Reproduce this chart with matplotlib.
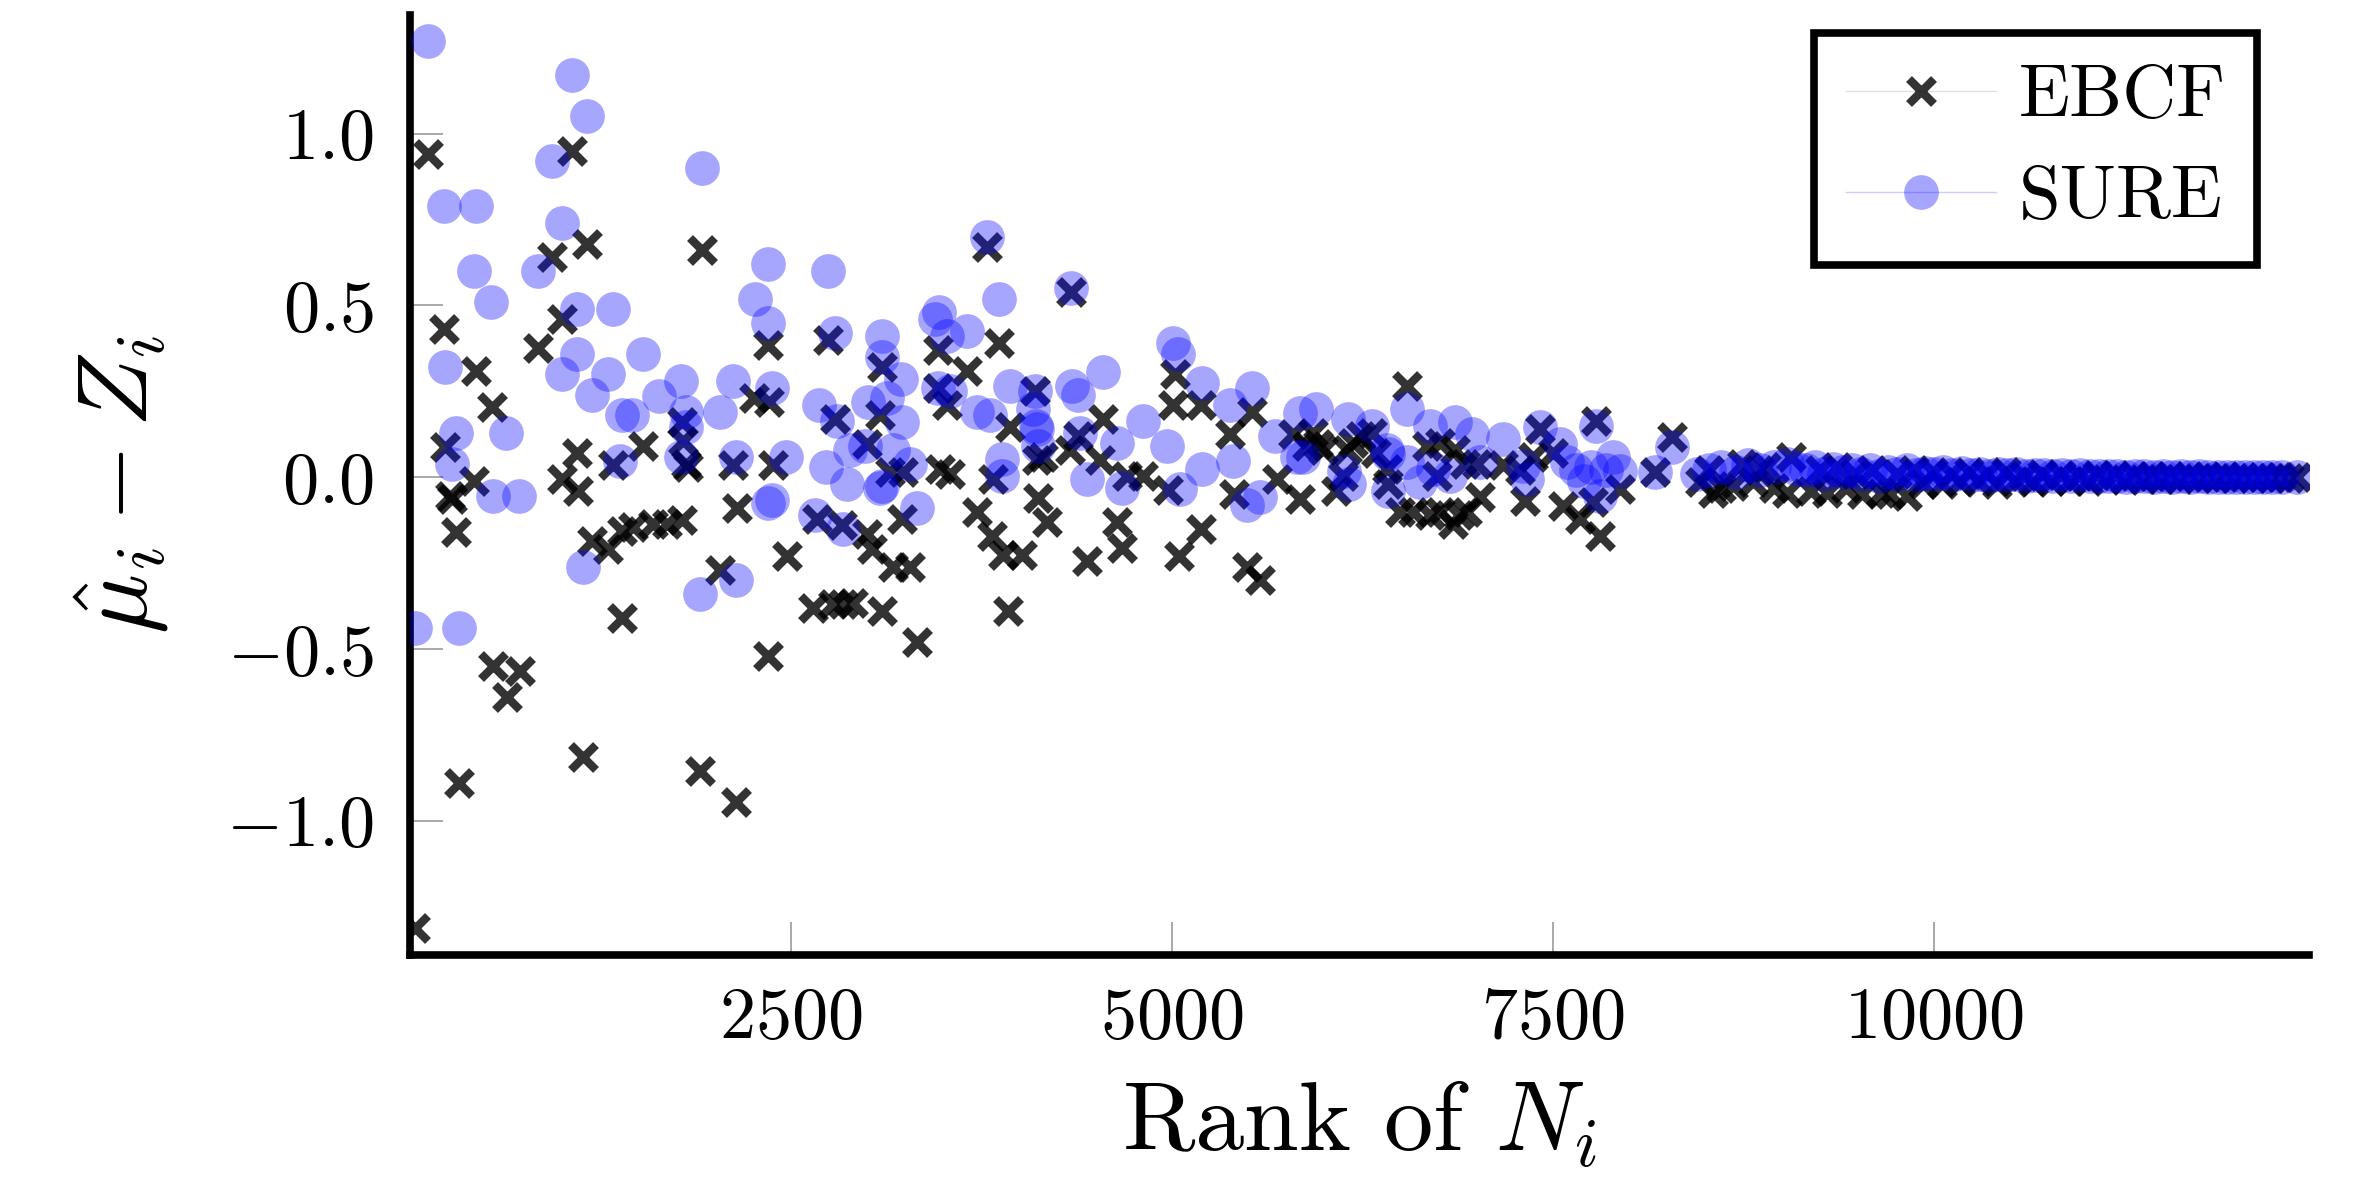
import matplotlib
matplotlib.use("Agg")
import matplotlib.pyplot as plt
from matplotlib.lines import Line2D

plt.rcParams['font.family'] = 'serif'
plt.rcParams['font.serif'] = ['cmr10', 'DejaVu Serif']
plt.rcParams['mathtext.fontset'] = 'cm'
plt.rcParams['axes.unicode_minus'] = False

# ---------------- data ----------------
ebcf_x = [33, 120, 223, 230, 262, 275, 302, 324, 420, 432, 536, 544, 636, 721, 840, 932, 997, 1000,
          1063, 1095, 1100, 1137, 1160, 1194, 1301, 1334, 1391, 1391, 1465, 1529, 1595, 1685, 1784,
          1784, 1790, 1811, 1825, 1903, 1916, 2034, 2120, 2140, 2143, 2258, 2350, 2350, 2356, 2380,
          2472, 2647, 2670, 2743, 2776, 2790, 2834, 2843, 2907, 2998, 2998, 3031, 3084, 3097, 3097,
          3150, 3170, 3228, 3235, 3281, 3327, 3465, 3465, 3478, 3522, 3544, 3655, 3720, 3787, 3819,
          3826, 3866, 3891, 3924, 3937, 4016, 4101, 4114, 4121, 4154, 4180, 4331, 4336, 4383, 4443,
          4528, 4548, 4639, 4672, 4705, 4810, 4973, 5006, 5020, 5046, 5190, 5190, 5381, 5407, 5492,
          5525, 5578, 5689, 5794, 5840, 5886, 5925, 5960, 5991, 6075, 6122, 6149, 6188, 6240, 6313,
          6340, 6411, 6418, 6496, 6542, 6582, 6673, 6693, 6739, 6759, 6759, 6844, 6857, 6880, 6923,
          6936, 7000, 7022, 7173, 7280, 7317, 7369, 7415, 7500, 7566, 7678, 7763, 7783, 7809, 7940,
          8170, 8281, 8465, 8520, 8551, 8600, 8682, 8740, 8813, 8850, 8900, 8950, 9036, 9060,
          9190, 9250, 9300, 9360, 9420, 9480, 9530, 9590, 9650, 9710, 9760, 9820, 9870, 9930, 9990,
          10050, 10110, 10170, 10230, 10290, 10350, 10410, 10470, 10530, 10590, 10650, 10710, 10770,
          10830, 10890, 10950, 11010, 11070, 11130, 11190, 11250, 11310, 11370, 11430, 11490, 11550,
          11610, 11670, 11730, 11790, 11850, 11910, 11970, 12030, 12090, 12150, 12210, 12270, 12330,
          12380]
ebcf_y = [-1.31, 0.94, 0.43, 0.087, -0.055, -0.064, -0.16, -0.89, -0.01, 0.31, 0.205, -0.55, -0.64,
          -0.565, 0.375, 0.64, 0.46, -0.005, 0.95, 0.07, -0.04, -0.815, 0.68, -0.185, -0.21, 0.037,
          -0.155, -0.41, -0.145, 0.09, -0.135, -0.135, -0.125, 0.16, 0.105, 0.04, 0.03, -0.855, 0.66,
          -0.27, 0.037, -0.945, -0.09, 0.23, 0.385, -0.52, 0.22, 0.037, -0.23, -0.38, -0.12, 0.40,
          -0.37, 0.17, -0.14, -0.37, -0.365, 0.096, -0.165, -0.21, 0.18, 0.32, -0.39, 0.014, -0.26,
          -0.12, 0.014, -0.26, -0.48, 0.37, 0.26, 0.023, 0.21, 0.01, 0.31, -0.10, 0.67, -0.17, -0.006,
          0.39, -0.225, -0.39, 0.145, -0.225, 0.25, 0.05, -0.06, 0.06, -0.13, 0.08, 0.54, 0.12,
          -0.245, 0.05, 0.17, -0.13, -0.205, 0.003, 0.003, -0.037, 0.21, 0.30, -0.23, 0.21, -0.15,
          0.125, -0.05, -0.26, 0.19, -0.30, -0.006, 0.125, -0.064, 0.09, 0.13, 0.096, 0.08, -0.04,
          0.003, 0.08, 0.10, 0.12, 0.13, 0.07, 0.023, -0.02, -0.10, 0.265, -0.10, 0.09, -0.11, 0.003,
          0.10, -0.10, -0.137, 0.08, -0.11, 0.04, -0.10, 0.04, -0.058, 0.037, 0.02, -0.07, 0.06,
          0.14, 0.07, -0.084, -0.12, -0.073, 0.163, -0.17, -0.035, 0.014, 0.116, -0.015, 0.02,
          -0.045, -0.03, -0.026, 0.04, -0.015, 0.02, 0.03, -0.03, -0.045, 0.06,
          -0.04, 0.02, -0.045, 0.03, -0.03, 0.01, -0.05, 0.02, -0.045, -0.05, 0.01, -0.055, 0.02,
          -0.02, 0.015, -0.02, 0.01, -0.015, 0.015, -0.01, 0.01, -0.02, 0.015, -0.01, 0.005, -0.015,
          0.01, -0.01, 0.008, -0.01, 0.005, -0.012, 0.008, -0.005, 0.006, -0.008, 0.004, -0.006,
          0.005, -0.005, 0.003, -0.004, 0.004, -0.003, 0.002, -0.003, 0.003, -0.002, 0.002, -0.002,
          0.002, -0.001, 0.001, -0.001, 0.001]

sure_x = [33, 120, 223, 228, 275, 302, 324, 420, 432, 532, 544, 630, 715, 840, 932, 997, 997, 1063,
          1095, 1097, 1137, 1160, 1194, 1301, 1334, 1378, 1391, 1456, 1529, 1633, 1777, 1777, 1811,
          1811, 1903, 1916, 2034, 2120, 2140, 2140, 2264, 2350, 2350, 2350, 2376, 2376, 2467, 2658,
          2684, 2730, 2743, 2790, 2800, 2843, 2868, 2887, 2986, 3005, 3084, 3097, 3097, 3097, 3130,
          3170, 3222, 3228, 3281, 3327, 3445, 3465, 3470, 3522, 3544, 3655, 3720, 3787, 3806, 3866,
          3885, 3885, 3937, 4088, 4101, 4108, 4115, 4120, 4336, 4343, 4383, 4397, 4443, 4548, 4639,
          4672, 4810, 4967, 5006, 5040, 5053, 5197, 5197, 5381, 5400, 5492, 5525, 5578, 5676, 5820,
          5840, 5860, 5945, 6129, 6155, 6162, 6313, 6411, 6418, 6418, 6542, 6542, 6628, 6693, 6713,
          6825, 6857, 6969, 7022, 7173, 7304, 7330, 7415, 7546, 7592, 7650, 7700, 7750, 7783, 7809,
          7850, 7894, 7940, 8170, 8281, 8444, 8520, 8600, 8700, 8780, 8860, 8950, 9036, 9100,
          9160, 9220, 9280, 9340, 9400, 9460, 9520, 9580, 9640, 9700, 9760, 9820, 9880, 9940, 10000,
          10060, 10120, 10180, 10240, 10300, 10360, 10420, 10480, 10540, 10600, 10660, 10720, 10780,
          10840, 10900, 10960, 11020, 11080, 11140, 11200, 11260, 11320, 11380, 11440, 11500, 11560,
          11620, 11680, 11740, 11800, 11860, 11920, 11980, 12040, 12100, 12160, 12220, 12280, 12380]
sure_y = [-0.44, 1.27, 0.79, 0.32, 0.04, 0.13, -0.44, 0.60, 0.79, 0.51, -0.055, 0.13, -0.055, 0.60,
          0.92, 0.74, 0.30, 1.17, 0.49, 0.36, -0.26, 1.05, 0.24, 0.30, 0.49, 0.047, 0.18, 0.18, 0.36,
          0.235, 0.28, 0.06, 0.19, 0.145, -0.34, 0.90, 0.19, 0.28, 0.06, -0.30, 0.52, 0.62, 0.45,
          -0.075, 0.26, -0.065, 0.06, -0.11, 0.21, 0.03, 0.60, 0.42, 0.165, -0.15, -0.02, 0.08, 0.09,
          0.22, -0.03, 0.41, 0.35, -0.025, 0.23, 0.08, 0.285, 0.16, 0.038, -0.088, 0.46, 0.26, 0.48,
          0.41, 0.25, 0.425, 0.19, 0.70, 0.18, 0.52, 0.052, 0.003, 0.265, 0.20, 0.25, 0.15, 0.14,
          0.09, 0.55, 0.265, 0.24, 0.13, -0.006, 0.305, 0.10, -0.03, 0.165, 0.09, 0.39, 0.36, -0.035,
          0.275, 0.023, 0.21, 0.047, -0.08, 0.26, -0.058, 0.12, 0.058, 0.186, 0.06, 0.198, 0.017,
          0.17, -0.02, 0.15, 0.08, 0.067, -0.04, 0.20, 0.043, -0.015, 0.15, 0.023, 0.003, 0.16,
          0.125, 0.043, 0.11, 0.032, -0.006, 0.145, 0.096, 0.043, 0.02, -0.01, 0.03, 0.15, -0.055,
          0.02, 0.06, 0.017, 0.014, 0.087, 0.01, 0.02, 0.03, 0.015, 0.035, 0.02, 0.03, 0.04, 0.025,
          0.02, 0.03, 0.01, 0.025, 0.015, 0.02, 0.01, 0.02, 0.005, 0.015, 0.01, 0.02, 0.008, 0.012,
          0.01, 0.015, 0.006, 0.012, 0.008, 0.01, 0.005, 0.01, 0.007, 0.009, 0.004, 0.008, 0.006,
          0.005, 0.007, 0.004, 0.006, 0.003, 0.005, 0.004, 0.005, 0.002, 0.004, 0.003, 0.002, 0.004,
          0.002, 0.003, 0.002, 0.003, 0.001, 0.002, 0.002, 0.001, 0.002, 0.001, 0.001, 0.002, 0.001,
          0.001]

xtick_vals = [2500, 5000, 7500, 10000]
ytick_vals = [-1.0, -0.5, 0.0, 0.5, 1.0]
series_names = ['EBCF', 'SURE']

# ---------------- figure ----------------
W, H = 2359, 1181
fig = plt.figure(figsize=(W / 100, H / 100), dpi=100)
ax = fig.add_axes([410 / W, 1 - 955 / H, (2309 - 410) / W, (955 - 15) / H])

X_MS, X_MEW = 18, 6
ax.plot(ebcf_x, ebcf_y, linestyle='none', marker='x', markersize=X_MS, markeredgewidth=X_MEW,
        color='black', alpha=0.8, zorder=3)
ax.plot(sure_x, sure_y, linestyle='none', marker='o', markersize=25, markeredgewidth=0,
        color='blue', alpha=0.35, zorder=4)

ax.set_xlim(0, 12460)
ax.set_ylim(-1.39, 1.345)

for side in ('top', 'right'):
    ax.spines[side].set_visible(False)
for side in ('left', 'bottom'):
    ax.spines[side].set_linewidth(5.5)
    ax.spines[side].set_color('black')

ax.set_xticks(xtick_vals)
ax.set_xticklabels([f'${v}$' for v in xtick_vals])
ax.set_yticks(ytick_vals)
ax.set_yticklabels([f'${v:.1f}$' for v in ytick_vals])
ax.tick_params(axis='both', direction='in', length=24, width=1.2, color='#999999',
               labelsize=52)
ax.tick_params(axis='x', pad=23)
ax.tick_params(axis='y', pad=26)

ax.set_xlabel('Rank of $N_i$', fontsize=71, labelpad=20)
ax.set_ylabel(r'$\hat{\mu}_i - Z_i$', fontsize=72, labelpad=40)

handles = [
    Line2D([], [], color=(0, 0, 0, 0.12), lw=1, marker='x', markersize=X_MS,
           markeredgewidth=X_MEW, markeredgecolor=(0, 0, 0, 0.8)),
    Line2D([], [], color=(0, 0, 1, 0.2), lw=1, marker='o', markersize=25,
           markeredgewidth=0, markerfacecolor=(0, 0, 1, 0.35)),
]
leg = ax.legend(handles, series_names, loc='upper right',
                bbox_to_anchor=(2257 / W, 1 - 33 / H), bbox_transform=fig.transFigure,
                borderaxespad=0, fontsize=54, frameon=True, fancybox=False,
                edgecolor='black', framealpha=1, handlelength=2.0, handletextpad=0.3,
                borderpad=0.42, labelspacing=0.45)
leg.get_frame().set_linewidth(5.5)

fig.savefig('out.png', dpi=100)
